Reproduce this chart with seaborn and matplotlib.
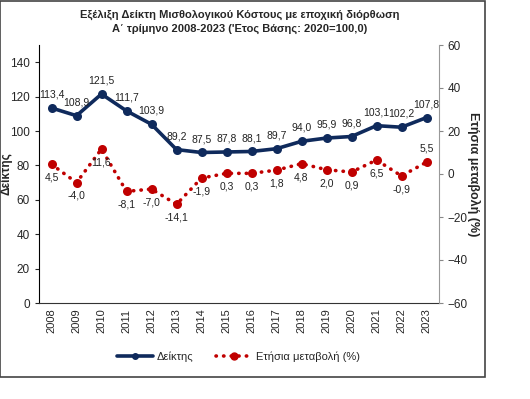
import numpy as np
import pandas as pd
import seaborn as sns
import matplotlib.pyplot as plt
from matplotlib.patches import Rectangle
from matplotlib.lines import Line2D

years = [str(y) for y in range(2008, 2024)]
index_vals = [113.4, 108.9, 121.5, 111.7, 103.9, 89.2, 87.5, 87.8,
              88.1, 89.7, 94.0, 95.9, 96.8, 103.1, 102.2, 107.8]
change_vals = [4.5, -4.0, 11.6, -8.1, -7.0, -14.1, -1.9, 0.3,
               0.3, 1.8, 4.8, 2.0, 0.9, 6.5, -0.9, 5.5]

navy = '#0f2a5c'
red = '#c00000'
dots = (0, (0.1, 2.0))

sns.set_style('white')
plt.rcParams['font.family'] = ['Liberation Sans', 'DejaVu Sans']

df = pd.DataFrame({'x': np.arange(len(years)), 'idx': index_vals, 'chg': change_vals})

fig = plt.figure(figsize=(5.3, 3.99), dpi=100)
ax = fig.add_axes([39 / 530, 1 - 303 / 399, 400 / 530, 258 / 399])
ax2 = ax.twinx()

sns.lineplot(data=df, x='x', y='idx', ax=ax, color=navy, lw=2.6, marker='o',
             markersize=6.5, markeredgewidth=0)
sns.lineplot(data=df, x='x', y='chg', ax=ax2, color=red, lw=2.6, ls=dots,
             dash_capstyle='round', marker='o', markersize=6.5, markeredgewidth=0)

ax.set_xlim(-0.5, len(years) - 0.5)
ax.set_ylim(0, 150)
ax2.set_ylim(-60, 60)
ax.set_yticks(range(0, 141, 20))
ax2.set_yticks(range(-60, 61, 20))

ax.set_xticks(df['x'])
ax.set_xticklabels(years, rotation=90, fontsize=8)
ax.set_xticks(np.arange(-0.5, len(years), 1), minor=True)
ax.tick_params(axis='x', which='major', length=0, pad=4)
ax.tick_params(axis='x', which='minor', length=3, width=0.8, color='#333333', direction='out')
ax.tick_params(axis='y', length=3, width=0.8, direction='out', labelsize=8.5, left=True)
ax2.tick_params(axis='y', length=3, width=0.8, direction='out', labelsize=8.5, right=True,
                color='#888888', pad=3)

for a in (ax, ax2):
    a.spines['top'].set_visible(False)
    a.set_xlabel('')
ax.spines['left'].set_color('black')
ax.spines['bottom'].set_color('#333333')
ax.spines['right'].set_visible(False)
ax2.spines['left'].set_visible(False)
ax2.spines['bottom'].set_visible(False)
ax2.spines['right'].set_color('#999999')

ax.set_ylabel('Δείκτης', fontsize=8.5, fontweight='bold')
ax.yaxis.set_label_coords(-26 / 400, 0.5)
ax2.set_ylabel('Ετήσια μεταβολή (%)', fontsize=9, fontweight='bold', rotation=270,
               va='center', rotation_mode='anchor')
ax2.yaxis.set_label_coords(1 + 35 / 400, 0.5)

fmt = lambda v: f'{v:.1f}'.replace('.', ',')
for i, v in enumerate(index_vals):
    ax.annotate(fmt(v), (i, v), xytext=(0, 6), textcoords='offset points',
                ha='center', va='bottom', fontsize=7.5, color='#222222')
for i, v in enumerate(change_vals):
    if i == len(change_vals) - 1:
        ax2.annotate(fmt(v), (i, v), xytext=(0, 6), textcoords='offset points',
                     ha='center', va='bottom', fontsize=7.5, color='#222222')
    else:
        ax2.annotate(fmt(v), (i, v), xytext=(0, -6), textcoords='offset points',
                     ha='center', va='top', fontsize=7.5, color='#222222')

fig.text(0.453, 1 - 15 / 399, 'Εξέλιξη Δείκτη Μισθολογικού Κόστους με εποχική διόρθωση',
         ha='center', va='center', fontsize=8, fontweight='bold')
fig.text(0.453, 1 - 29 / 399, 'Α΄ τρίμηνο 2008-2023 (\'Ετος Βάσης: 2020=100,0)',
         ha='center', va='center', fontsize=8, fontweight='bold')

handles = [Line2D([], [], color=navy, lw=2.6, marker='o', markersize=4),
           Line2D([], [], color=red, lw=2.6, ls=dots, dash_capstyle='round',
                  marker='o', markersize=5)]
fig.legend(handles, ['Δείκτης', 'Ετήσια μεταβολή (%)'], loc='center',
           bbox_to_anchor=(0.45, 1 - 357 / 399), ncol=2, frameon=False, fontsize=8,
           handlelength=3.2, columnspacing=2, handletextpad=0.4)

fig.patches.append(Rectangle((0, 1 - 377 / 399), 485 / 530, 377 / 399 - 0.003,
                             transform=fig.transFigure, fill=False, ec='#444444', lw=1.2))

fig.savefig('out.png', dpi=100)
